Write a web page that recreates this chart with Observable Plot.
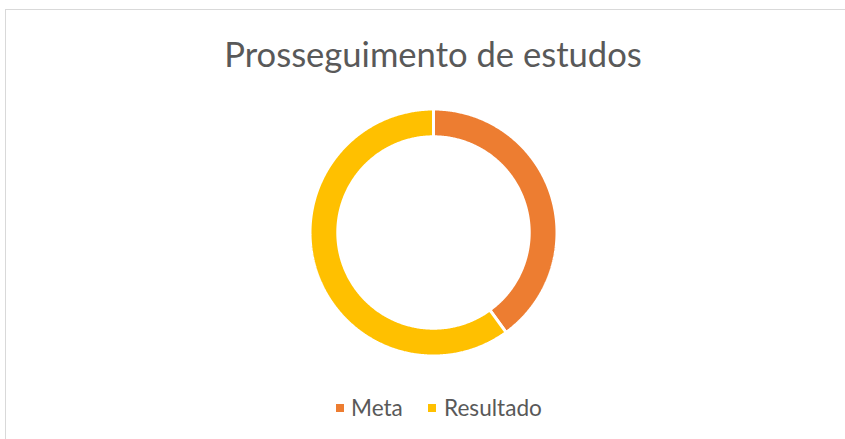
<!DOCTYPE html>
<html>
<head>
<meta charset="utf-8">
<script src="https://cdn.jsdelivr.net/npm/d3@7"></script>
<script src="https://cdn.jsdelivr.net/npm/@observablehq/plot@0.6"></script>
<style>
  html, body { margin: 0; padding: 0; background: #fff; }
  body { width: 845px; height: 439px; overflow: hidden; position: relative; font-family: Lato, "Open Sans", sans-serif; color: #595959; }
  #frame { position: absolute; left: 5px; top: 9px; width: 860px; height: 460px; border: 1px solid #d9d9d9; box-sizing: border-box; }
  #title { position: absolute; left: 0; width: 866px; top: 32.5px; text-align: center; font-size: 34.6px; line-height: normal; white-space: nowrap; }
  #chart { position: absolute; left: 0; top: 90px; }
  #legend { position: absolute; top: 394px; left: 0; width: 845px; font-size: 22.6px; line-height: normal; white-space: nowrap; }
  .item { position: absolute; top: 0; }
  .sw { position: absolute; width: 8px; height: 8px; }
</style>
</head>
<body>
<div id="frame"></div>
<div id="title">Prosseguimento de estudos</div>
<div id="chart"></div>
<div id="legend"></div>
<script>
const categories = ["Meta", "Resultado"];
const values = [40, 60];
const colors = ["#ED7D31", "#FFC000"];
const chartTitle = "Prosseguimento de estudos";

// donut geometry (unit radii)
const outerR = 1.0;
const innerR = 0.775;
const pie = d3.pie().sort(null).value(d => d.value)(categories.map((c, i) => ({cat: c, value: values[i]})));

const pts = [];
for (const s of pie) {
  const a0 = s.startAngle, a1 = s.endAngle;
  const n = Math.max(8, Math.ceil((a1 - a0) / (Math.PI / 360)));
  for (let k = 0; k <= n; k++) {
    const a = a0 + (a1 - a0) * k / n;
    pts.push({cat: s.data.cat, x: outerR * Math.sin(a), y: outerR * Math.cos(a)});
  }
  for (let k = n; k >= 0; k--) {
    const a = a0 + (a1 - a0) * k / n;
    pts.push({cat: s.data.cat, x: innerR * Math.sin(a), y: innerR * Math.cos(a)});
  }
}

const W = 845, H = 284, cx = 433, cy = 142, R = 123.5;
const plot = Plot.plot({
  width: W,
  height: H,
  margin: 0,
  x: {domain: [-1, 1], range: [cx - R, cx + R], axis: null},
  y: {domain: [-1, 1], range: [cy + R, cy - R], axis: null},
  color: {domain: categories, range: colors},
  marks: [
    Plot.line(pts, {x: "x", y: "y", z: "cat", fill: "cat", stroke: "white", strokeWidth: 3, curve: "linear-closed", strokeLinejoin: "miter"})
  ]
});
document.getElementById("chart").appendChild(plot);

// legend
const legend = document.getElementById("legend");
const legendPos = [{sw: 336, tx: 351}, {sw: 428, tx: 444}];
categories.forEach((c, i) => {
  const sw = document.createElement("div");
  sw.className = "sw";
  sw.style.left = legendPos[i].sw + "px";
  sw.style.top = "10px";
  sw.style.background = plot.scale("color").apply(c);
  legend.appendChild(sw);
  const t = document.createElement("div");
  t.className = "item";
  t.style.left = legendPos[i].tx + "px";
  t.textContent = c;
  legend.appendChild(t);
});
</script>
</body>
</html>
